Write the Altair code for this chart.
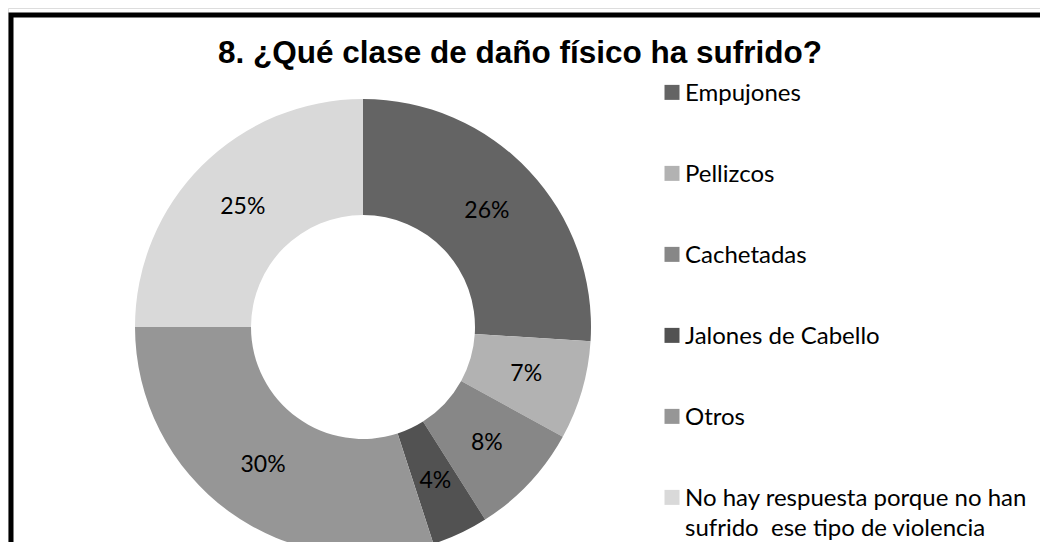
import altair as alt
import pandas as pd

categories = ["Empujones", "Pellizcos", "Cachetadas", "Jalones de Cabello", "Otros",
              "No hay respuesta porque no han sufrido  ese tipo de violencia"]
values = [26, 7, 8, 4, 30, 25]
pct_labels = ["26%", "7%", "8%", "4%", "30%", "25%"]
colors = ["#646464", "#b2b2b2", "#878787", "#525252", "#969696", "#d9d9d9"]
title_text = "8. ¿Qué clase de daño físico ha sufrido?"

df = pd.DataFrame({"cat": categories, "value": values, "label": pct_labels,
                   "order": list(range(len(categories)))})

CX, CY = 355, 319

color_enc = alt.Color(
    "cat:N",
    scale=alt.Scale(domain=categories, range=colors),
    sort=categories,
    legend=alt.Legend(
        title=None, orient="none", legendX=652, legendY=81,
        symbolType="M-1,-2.15L1,-2.15L1,-0.15L-1,-0.15Z", symbolSize=225,
        symbolStrokeWidth=0, symbolFillColor="black",
        labelFont="Lato", labelFontSize=24, labelColor="black",
        labelOffset=1, labelLimit=0, rowPadding=57, padding=0,
        labelBaseline="alphabetic",
        labelExpr="split(replace(replace(datum.label, '  ', ' \u00a0'), ' han ', ' han|'), '|')",
    ),
)

base = alt.Chart(df)

arcs = base.mark_arc(innerRadius=112, outerRadius=228).encode(
    theta=alt.Theta("value:Q", stack=True),
    order=alt.Order("order:Q"),
    color=color_enc,
    x=alt.value(CX), y=alt.value(CY),
)

texts = base.mark_text(radius=170, font="Lato", fontSize=23, color="black").encode(
    theta=alt.Theta("value:Q", stack=True),
    order=alt.Order("order:Q"),
    text="label:N",
    x=alt.value(CX), y=alt.value(CY),
)

frame = alt.Chart(pd.DataFrame({"a": [0]})).mark_rect(
    filled=False, stroke="black", strokeWidth=5
).encode(x=alt.value(3), x2=alt.value(1300), y=alt.value(7), y2=alt.value(900))

title = alt.Chart(pd.DataFrame({"t": [title_text]})).mark_text(
    font="Liberation Sans", fontSize=31.5, fontWeight="bold", align="center",
    baseline="alphabetic", color="black"
).encode(text="t:N", x=alt.value(512), y=alt.value(55))

chart = alt.layer(frame, arcs, texts, title).properties(
    width=1032, height=534, autosize=alt.AutoSizeParams(type="none"), padding=0,
    background="white"
).configure_view(stroke=None).configure(style={"guide-label": {"lineHeight": 30}})

chart.save("out.html", embed_options={"renderer": "svg", "actions": False})
